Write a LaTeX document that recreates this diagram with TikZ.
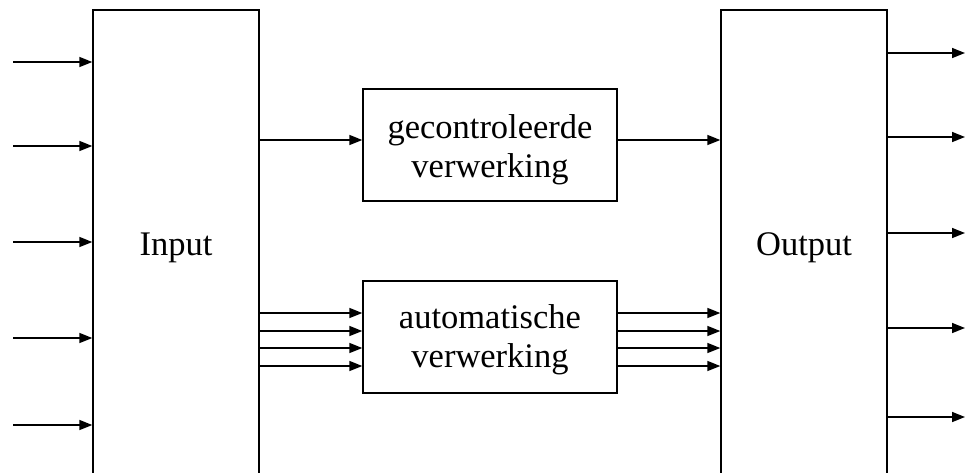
\documentclass[tikz,border=0pt]{standalone}
\usepackage{fontspec}
\setmainfont{Liberation Serif}
\usetikzlibrary{arrows.meta}
\begin{document}
\begin{tikzpicture}[x=1pt,y=-1pt,
  blk/.style={draw, line width=1.4pt, rectangle, inner sep=0pt, align=center,
    font=\fontsize{34.5}{39.7}\selectfont},
  txt/.style={inner sep=0pt, align=center, font=\fontsize{34.5}{39}\selectfont},
  arr/.style={-{Triangle[length=13pt,width=10pt]}, line width=1.5pt}]
\clip (0,0) rectangle (969,472);
\useasboundingbox (0,0) rectangle (969,472);
\node[blk, minimum width=166pt, minimum height=476pt] (in) at (176,248) {Input};
\node[blk, minimum width=166pt, minimum height=476pt] (out) at (804,248) {Output};
\node[blk, minimum width=254pt, minimum height=112pt] (ctrl) at (490,145) {};
\node[blk, minimum width=254pt, minimum height=112pt] (auto) at (490,337) {};
\node[txt, yshift=-5pt] (ctrltxt) at (ctrl.center) {gecontroleerde\\verwerking};
\node[txt, yshift=-3pt] (autotxt) at (auto.center) {automatische\\verwerking};
% input arrows
\foreach \y [count=\i] in {62,146,242,338,425} {
  \coordinate (s\i) at (13,\y);
  \draw[arr] (s\i) -- (s\i -| in.west);
}
% output arrows
\foreach \y [count=\i] in {53,137,233,328,417} {
  \coordinate (e\i) at (965,\y);
  \draw[arr] (e\i -| out.east) -- (e\i);
}
% controlled path
\coordinate (c1) at (0,140);
\draw[arr] (c1 -| in.east) -- (c1 -| ctrl.west);
\draw[arr] (c1 -| ctrl.east) -- (c1 -| out.west);
% automatic paths
\foreach \y [count=\i] in {313,331,348,366} {
  \coordinate (a\i) at (0,\y);
  \draw[arr] (a\i -| in.east) -- (a\i -| auto.west);
  \draw[arr] (a\i -| auto.east) -- (a\i -| out.west);
}
\end{tikzpicture}
\end{document}
